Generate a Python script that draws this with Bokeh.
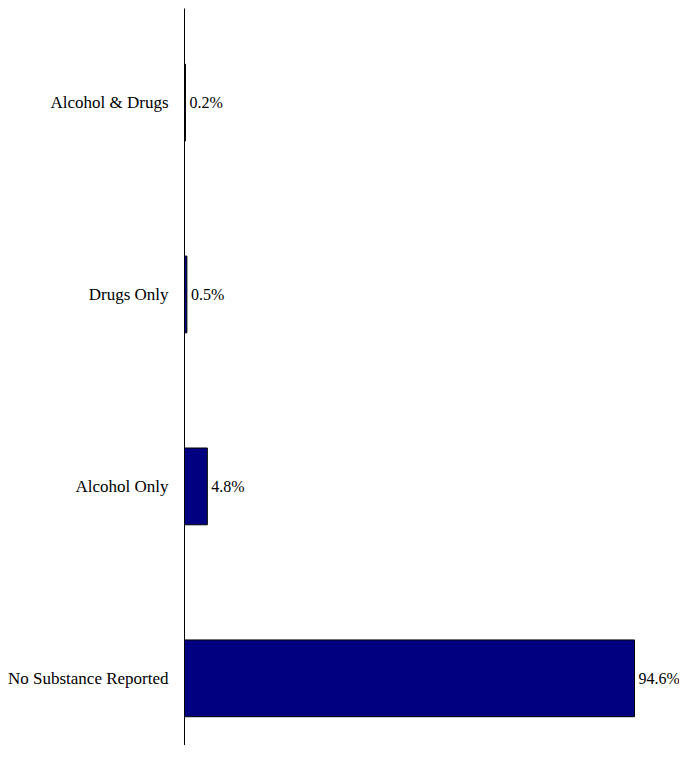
from bokeh.plotting import figure
from bokeh.models import ColumnDataSource, FixedTicker, Range1d
from bokeh.core.properties import value
from bokeh.embed import file_html
from bokeh.resources import INLINE

categories = ["No Substance Reported", "Alcohol Only", "Drugs Only", "Alcohol & Drugs"]
percents = [94.6, 4.8, 0.5, 0.2]
labels = ["94.6%", "4.8%", "0.5%", "0.2%"]

pos = list(range(len(categories)))
src = ColumnDataSource(data=dict(y=pos, pct=percents, lab=labels))

p = figure(width=679, height=745, output_backend="svg", toolbar_location=None,
           x_range=Range1d(0, 104.06), y_range=Range1d(-0.35, 3.49),
           min_border_left=184, min_border_right=0, min_border_top=8, min_border_bottom=0)
p.outline_line_color = None
p.grid.visible = False
p.xaxis.visible = False

p.hbar(y="y", left=0, right="pct", height=0.4, source=src,
       fill_color="#000080", line_color="black", line_width=1)
p.text(x="pct", y="y", text="lab", source=src, x_offset=4,
       text_baseline="middle", text_font=value("Liberation Serif"),
       text_font_size="16px", text_color="black")

p.yaxis.ticker = FixedTicker(ticks=pos)
p.yaxis.major_label_overrides = {i: c for i, c in zip(pos, categories)}
p.yaxis.major_tick_line_color = None
p.yaxis.minor_tick_line_color = None
p.yaxis.major_label_standoff = 10
p.yaxis.major_label_text_font = "Liberation Serif"
p.yaxis.major_label_text_font_size = "17px"
p.yaxis.major_label_text_color = "black"
p.yaxis.axis_line_color = "black"

open("out.html", "w").write(file_html(p, INLINE))
